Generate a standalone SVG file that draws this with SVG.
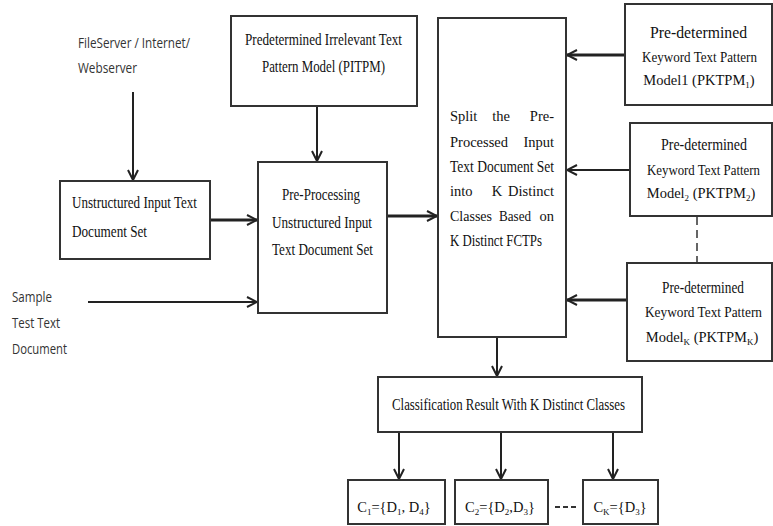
<svg xmlns="http://www.w3.org/2000/svg" width="773" height="526" viewBox="0 0 773 526">
<defs>
<style>
.box{fill:#fff;stroke:#333;stroke-width:2}
.t{font-family:"Liberation Serif","DejaVu Serif",serif;font-size:16px;fill:#111}
.m{text-anchor:middle}
.e{text-anchor:end}
.n{font-size:14.5px}
.k{font-size:14px}
.s{font-family:"Open Sans","Liberation Sans",sans-serif;font-size:14px;fill:#333}
.c{fill:none;stroke:#222;stroke-width:2}
.th{stroke-width:3}
.sub{font-size:9px}
</style>
<marker id="ah" viewBox="0 0 12 12" refX="11" refY="6" markerWidth="12" markerHeight="12" markerUnits="userSpaceOnUse" orient="auto">
<path d="M1,1 L11,6 L1,11" fill="none" stroke="#222" stroke-width="2"/>
</marker>
</defs>
<rect width="773" height="526" fill="#fff"/>

<g id="connectors">
<line class="c" x1="133" y1="92" x2="133" y2="180" marker-end="url(#ah)"/>
<line class="c" x1="317" y1="106" x2="317" y2="161" marker-end="url(#ah)"/>
<line class="c th" x1="210" y1="220" x2="257" y2="220" marker-end="url(#ah)"/>
<line class="c" x1="88" y1="302" x2="257" y2="302" marker-end="url(#ah)"/>
<line class="c th" x1="387" y1="216" x2="437" y2="216" marker-end="url(#ah)"/>
<line class="c th" x1="625" y1="55" x2="567" y2="55" marker-end="url(#ah)"/>
<line class="c" x1="630" y1="170" x2="567" y2="170" marker-end="url(#ah)"/>
<line class="c th" x1="627" y1="300" x2="567" y2="300" marker-end="url(#ah)"/>
<line x1="697" y1="217" x2="697" y2="262" stroke="#333" stroke-width="1.5" stroke-dasharray="8,5"/>
<line class="c" x1="497" y1="337" x2="497" y2="376" marker-end="url(#ah)"/>
<line class="c" x1="399" y1="432" x2="399" y2="479" marker-end="url(#ah)"/>
<line class="c" x1="501" y1="432" x2="501" y2="479" marker-end="url(#ah)"/>
<line class="c" x1="613" y1="432" x2="613" y2="479" marker-end="url(#ah)"/>
<line x1="555" y1="507" x2="576" y2="507" stroke="#333" stroke-width="2" stroke-dasharray="5,3"/>
</g>

<g id="source">
<text class="s" x="78" y="48" textLength="112" lengthAdjust="spacingAndGlyphs">FileServer / Internet/</text>
<text class="s" x="78" y="73" textLength="59" lengthAdjust="spacingAndGlyphs">Webserver</text>
</g>

<g id="sample">
<text class="s" x="12" y="302" textLength="40" lengthAdjust="spacingAndGlyphs">Sample</text>
<text class="s" x="12" y="328" textLength="48" lengthAdjust="spacingAndGlyphs">Test Text</text>
<text class="s" x="12" y="354" textLength="55" lengthAdjust="spacingAndGlyphs">Document</text>
</g>

<g id="pitpm">
<rect class="box" x="231" y="16" width="186" height="90"/>
<text class="t" x="245" y="45" textLength="157" lengthAdjust="spacingAndGlyphs">Predetermined Irrelevant Text</text>
<text class="t" x="262" y="72" textLength="123" lengthAdjust="spacingAndGlyphs">Pattern Model (PITPM)</text>
</g>

<g id="unstructured">
<rect class="box" x="60" y="181" width="150" height="78"/>
<text class="t" x="72" y="208" textLength="125" lengthAdjust="spacingAndGlyphs">Unstructured Input Text</text>
<text class="t" x="72" y="237" textLength="75" lengthAdjust="spacingAndGlyphs">Document Set</text>
</g>

<g id="preprocessing">
<rect class="box" x="258" y="162" width="129" height="151"/>
<text class="t" x="282" y="200" textLength="78" lengthAdjust="spacingAndGlyphs">Pre-Processing</text>
<text class="t" x="272" y="228" textLength="100" lengthAdjust="spacingAndGlyphs">Unstructured Input</text>
<text class="t" x="272" y="255" textLength="101" lengthAdjust="spacingAndGlyphs">Text Document Set</text>
</g>

<g id="split">
<rect class="box" x="438" y="18" width="128" height="319"/>
<text class="t n" x="450" y="121">Split</text>
<text class="t n m" x="501" y="121">the</text>
<text class="t n e" x="554" y="121">Pre-</text>
<text class="t n" x="450" y="147">Processed</text>
<text class="t n e" x="554" y="147">Input</text>
<text class="t" x="450" y="172" textLength="104" lengthAdjust="spacingAndGlyphs">Text Document Set</text>
<text class="t n" x="450" y="196">into</text>
<text class="t n m" x="497" y="196">K</text>
<text class="t n e" x="554" y="196">Distinct</text>
<text class="t n" x="450" y="221" textLength="42" lengthAdjust="spacingAndGlyphs">Classes</text>
<text class="t n" x="499" y="221" textLength="32" lengthAdjust="spacingAndGlyphs">Based</text>
<text class="t n e" x="554" y="221">on</text>
<text class="t" x="450" y="246" textLength="92" lengthAdjust="spacingAndGlyphs">K Distinct FCTPs</text>
</g>

<g id="pktpm1">
<rect class="box" x="625" y="4" width="147" height="101"/>
<text class="t" x="650" y="38" textLength="97" lengthAdjust="spacingAndGlyphs">Pre-determined</text>
<text class="t k" x="642" y="62" textLength="115" lengthAdjust="spacingAndGlyphs">Keyword Text Pattern</text>
<text class="t n m" x="699" y="85">Model1 (PKTPM<tspan class="sub" dy="3">1</tspan><tspan dy="-3">)</tspan></text>
</g>

<g id="pktpm2">
<rect class="box" x="630" y="123" width="142" height="93"/>
<text class="t" x="661" y="150" textLength="86" lengthAdjust="spacingAndGlyphs">Pre-determined</text>
<text class="t k" x="647" y="175" textLength="113" lengthAdjust="spacingAndGlyphs">Keyword Text Pattern</text>
<text class="t n m" x="701" y="198">Model<tspan class="sub" dy="3">2</tspan><tspan dy="-3"> (PKTPM</tspan><tspan class="sub" dy="3">2</tspan><tspan dy="-3">)</tspan></text>
</g>

<g id="pktpmk">
<rect class="box" x="627" y="263" width="145" height="98"/>
<text class="t" x="662" y="293" textLength="82" lengthAdjust="spacingAndGlyphs">Pre-determined</text>
<text class="t k" x="645" y="317" textLength="117" lengthAdjust="spacingAndGlyphs">Keyword Text Pattern</text>
<text class="t n m" x="702" y="342">Model<tspan class="sub" dy="3">K</tspan><tspan dy="-3"> (PKTPM</tspan><tspan class="sub" dy="3">K</tspan><tspan dy="-3">)</tspan></text>
</g>

<g id="classification">
<rect class="box" x="378" y="377" width="264" height="55"/>
<text class="t" x="392" y="410" textLength="233" lengthAdjust="spacingAndGlyphs">Classification Result With K Distinct Classes</text>
</g>

<g id="c1">
<rect class="box" x="348" y="480" width="97" height="44"/>
<text class="t n m" x="394" y="512">C<tspan class="sub" dy="3">1</tspan><tspan dy="-3">={D</tspan><tspan class="sub" dy="3">1</tspan><tspan dy="-3">, D</tspan><tspan class="sub" dy="3">4</tspan><tspan dy="-3">}</tspan></text>
</g>

<g id="c2">
<rect class="box" x="455" y="480" width="93" height="44"/>
<text class="t n m" x="500" y="512">C<tspan class="sub" dy="3">2</tspan><tspan dy="-3">={D</tspan><tspan class="sub" dy="3">2</tspan><tspan dy="-3">,D</tspan><tspan class="sub" dy="3">3</tspan><tspan dy="-3">}</tspan></text>
</g>

<g id="ck">
<rect class="box" x="583" y="480" width="75" height="44"/>
<text class="t n m" x="620" y="512">C<tspan class="sub" dy="3">K</tspan><tspan dy="-3">={D</tspan><tspan class="sub" dy="3">3</tspan><tspan dy="-3">}</tspan></text>
</g>
</svg>
